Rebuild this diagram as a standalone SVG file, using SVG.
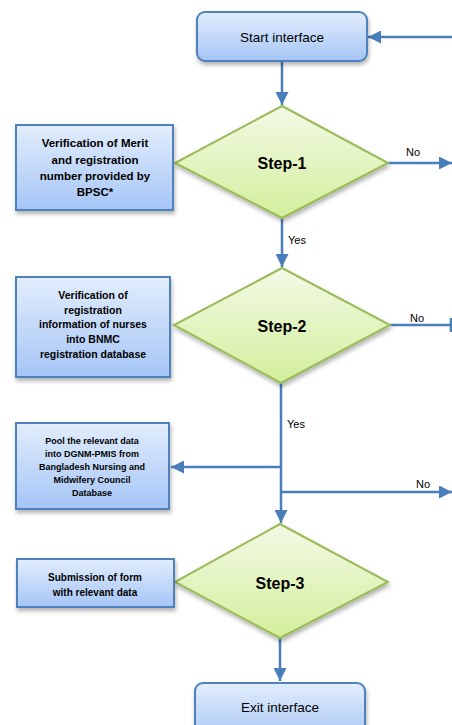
<svg xmlns="http://www.w3.org/2000/svg" width="452" height="725" viewBox="0 0 452 725">
<defs>
<linearGradient id="gBox" x1="0" y1="0" x2="0" y2="1">
<stop offset="0" stop-color="#e2edfc"/>
<stop offset="1" stop-color="#a5c5f6"/>
</linearGradient>
<linearGradient id="gDia" x1="0" y1="0" x2="0" y2="1">
<stop offset="0" stop-color="#f3f9e6"/>
<stop offset="1" stop-color="#d3ef9c"/>
</linearGradient>
<filter id="sh" x="-10%" y="-10%" width="130%" height="140%">
<feDropShadow dx="1" dy="3" stdDeviation="2" flood-color="#000" flood-opacity="0.3"/>
</filter>
<marker id="ah" viewBox="0 0 10 10" refX="10" refY="5" markerWidth="5.6" markerHeight="5.2" orient="auto" markerUnits="strokeWidth">
<path d="M0,0 L10,5 L0,10 Z" fill="#4a7ebb"/>
</marker>
</defs>
<style>
.box{fill:url(#gBox);stroke:#4f81bd;stroke-width:2;filter:url(#sh)}
.dia{fill:url(#gDia);stroke:#9bbb59;stroke-width:2;filter:url(#sh)}
.ln{fill:none;stroke:#4a7ebb;stroke-width:2.5}
.arr{marker-end:url(#ah)}
.t{font-family:"Liberation Sans",Arial,sans-serif;fill:#000;text-anchor:middle}
.b{font-weight:bold}
.lab{font-family:"Liberation Sans",Arial,sans-serif;font-size:11px;fill:#000}
</style>

<g id="connectors">
<line class="ln arr" x1="452" y1="37" x2="368" y2="37"/>
<line class="ln arr" x1="282" y1="61" x2="282" y2="105"/>
<line class="ln arr" x1="388" y1="163" x2="452" y2="163"/>
<line class="ln arr" x1="282" y1="218" x2="282" y2="267"/>
<line class="ln" x1="390" y1="325" x2="451" y2="325"/>
<line class="ln" x1="451" y1="318" x2="451" y2="332"/>
<line class="ln arr" x1="281" y1="383" x2="281" y2="523"/>
<line class="ln arr" x1="281" y1="467" x2="171" y2="467"/>
<line class="ln arr" x1="281" y1="492" x2="452" y2="492"/>
<line class="ln arr" x1="280" y1="638" x2="280" y2="681"/>
<text class="lab" x="406" y="156">No</text>
<text class="lab" x="288" y="244">Yes</text>
<text class="lab" x="410" y="322">No</text>
<text class="lab" x="287" y="428">Yes</text>
<text class="lab" x="416" y="488">No</text>
</g>

<g id="start">
<rect class="box" x="197" y="12" width="170" height="49" rx="8"/>
<text class="t" x="282" y="42" font-size="13.5">Start interface</text>
</g>

<g id="step1">
<polygon class="dia" points="282,106 388,163 282,218 175,163"/>
<text class="t b" x="282" y="169" font-size="16">Step-1</text>
</g>

<g id="box1">
<rect class="box" x="16" y="125" width="157" height="85"/>
<text class="t b" font-size="11.5"><tspan x="95" y="147">Verification of Merit</tspan><tspan x="95" y="164">and registration</tspan><tspan x="95" y="180">number provided by</tspan><tspan x="95" y="196">BPSC*</tspan></text>
</g>

<g id="step2">
<polygon class="dia" points="282,268 390,325 281,383 174,325"/>
<text class="t b" x="282" y="332" font-size="16">Step-2</text>
</g>

<g id="box2">
<rect class="box" x="16" y="277" width="154" height="100"/>
<text class="t b" font-size="10.5"><tspan x="93" y="299">Verification of</tspan><tspan x="93" y="314">registration</tspan><tspan x="93" y="328">information of nurses</tspan><tspan x="93" y="343">into BNMC</tspan><tspan x="93" y="358">registration database</tspan></text>
</g>

<g id="box3">
<rect class="box" x="16" y="423" width="153" height="86"/>
<text class="t b" font-size="9"><tspan x="92" y="444">Pool the relevant data</tspan><tspan x="92" y="457">into DGNM-PMIS from</tspan><tspan x="92" y="470">Bangladesh Nursing and</tspan><tspan x="92" y="483">Midwifery Council</tspan><tspan x="92" y="496">Database</tspan></text>
</g>

<g id="step3">
<polygon class="dia" points="280,524 388,582 280,638 175,582"/>
<text class="t b" x="280" y="589" font-size="16">Step-3</text>
</g>

<g id="box4">
<rect class="box" x="17" y="559" width="157" height="48"/>
<text class="t b" font-size="10"><tspan x="95" y="581">Submission of form</tspan><tspan x="95" y="596">with relevant data</tspan></text>
</g>

<g id="exit">
<rect class="box" x="195" y="683" width="170" height="60" rx="8"/>
<text class="t" x="280" y="712" font-size="13.5">Exit interface</text>
</g>
</svg>
